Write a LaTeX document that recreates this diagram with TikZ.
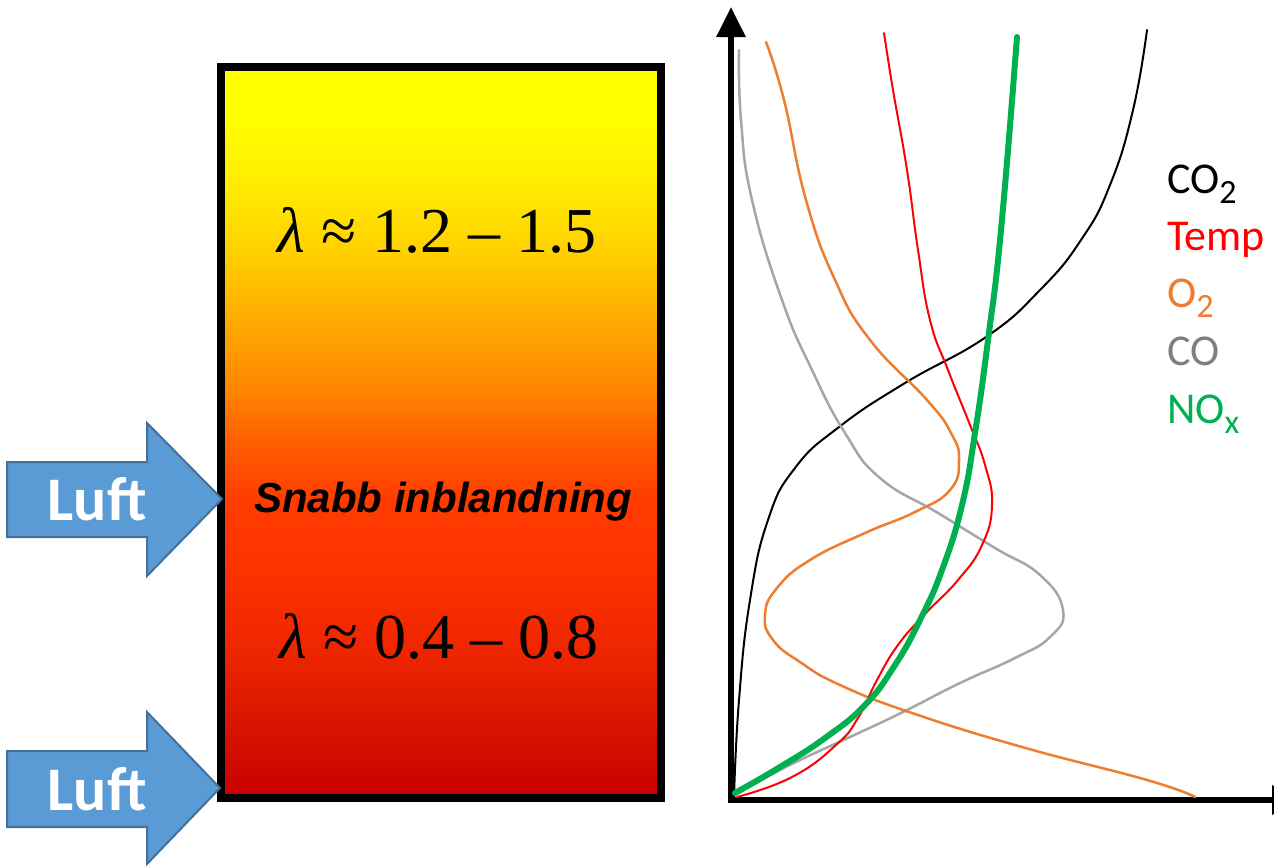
\documentclass[tikz,border=0pt]{standalone}
\usepackage{fontspec}
\setmainfont{Carlito}
\newfontfamily\tnrfont{Liberation Serif}
\newfontfamily\arialfont{Liberation Sans}
\usetikzlibrary{arrows.meta}
\definecolor{fA}{HTML}{C80000}
\definecolor{fB}{HTML}{D41000}
\definecolor{fC}{HTML}{EE2600}
\definecolor{fD}{HTML}{FF3300}
\definecolor{fE}{HTML}{FF3C00}
\definecolor{fF}{HTML}{FF6000}
\definecolor{fG}{HTML}{FF8C00}
\definecolor{fH}{HTML}{FFAA00}
\definecolor{fI}{HTML}{FFCC00}
\definecolor{fJ}{HTML}{FFEA00}
\definecolor{fK}{HTML}{FFFF00}
\definecolor{arrowfill}{HTML}{5B9BD5}
\definecolor{arrowline}{HTML}{41719C}
\definecolor{oO2}{HTML}{ED7D31}
\definecolor{gCOline}{HTML}{A6A6A6}
\definecolor{gCOtext}{HTML}{7F7F7F}
\definecolor{gNOx}{HTML}{00B050}
\definecolor{rTemp}{HTML}{FF0000}
\pgfdeclareverticalshading{flame}{100bp}{color(0bp)=(fA); color(25bp)=(fA); color(29bp)=(fB); color(35.1bp)=(fC); color(41.3bp)=(fD); color(45.4bp)=(fE); color(49.5bp)=(fF); color(53.6bp)=(fG); color(57.7bp)=(fH); color(61.8bp)=(fI); color(66.6bp)=(fJ); color(71.4bp)=(fK); color(75bp)=(fK); color(100bp)=(fK)}
\newcommand{\subtwo}[1]{\raisebox{-10pt}{\fontsize{34}{34}\selectfont #1}}
\tikzset{
  luftarrow/.style={fill=arrowfill, draw=arrowline, line width=2pt, line join=miter},
  lufttext/.style={anchor=base, text=white, font=\fontsize{62}{62}\selectfont\bfseries},
  lambdatext/.style={anchor=base, font=\fontsize{64}{64}\selectfont\tnrfont},
  legend/.style={anchor=base west, inner sep=0pt, font=\fontsize{44}{44}\selectfont},
  axisline/.style={line width=6pt, -{Triangle[length=30pt,width=28pt]}},
  curve/.style={line cap=round, line join=round}
}
\begin{document}
\begin{tikzpicture}[x=1pt,y=-1pt]
\useasboundingbox (0,0) rectangle (1274,865);
% box
\shade[shading=flame] (221,67) rectangle (661,798);
\draw[line width=8pt] (221,67) rectangle (661,798);
% arrows
\draw[luftarrow] (7,462) -- (147,462) -- (147,423) -- (222,499) -- (147,576) -- (147,537) -- (7,537) -- cycle;
\draw[luftarrow] (7,751) -- (147,751) -- (147,712) -- (220,788) -- (147,864) -- (147,827) -- (7,827) -- cycle;
\node[lufttext] (luft1) at (97,520) {Luft};
\node[lufttext] (luft2) at (97,810) {Luft};
% texts in box
\node[lambdatext] (lam1) at (437,252) {{\itshape λ} ≈ 1.2 – 1.5};
\node[lambdatext] (lam2) at (439,658) {{\itshape λ} ≈ 0.4 – 0.8};
\node[anchor=base, font=\fontsize{42}{42}\selectfont\arialfont\bfseries\itshape] (mix) at (443,512) {Snabb inblandning};
% axes
\coordinate (O) at (731,800);
\coordinate (ytip) at (731,7);
\coordinate (xtip) at (1302,800);
\coordinate (O2) at (728,800);
\draw[axisline] (O) -- (ytip);
\draw[axisline] (O2) -- (xtip);
% curves
\draw[curve, black, line width=2pt] plot[smooth, tension=0.8] coordinates {(734,797) (739,700) (750,600) (768,520) (795,468) (839,427) (905,383) (986,337) (1040,290) (1081,240) (1110,185) (1133,110) (1147,30)};
\draw[curve, gCOline, line width=2.5pt] plot[smooth, tension=0.8] coordinates {(739,50) (741,120) (752,200) (782,300) (812,370) (845,433) (880,478) (938,513) (995,548) (1040,575) (1063,610) (1050,637) (1015,658) (960,683) (903,712) (850,737) (800,760) (765,778) (735,795)};
\draw[curve, oO2, line width=2.5pt] plot[smooth, tension=0.8] coordinates {(766,42) (784,100) (806,200) (835,280) (870,340) (927,400) (951,433) (959,460) (950,490) (915,512) (865,533) (810,560) (777,588) (765,615) (773,640) (800,662) (840,685) (912,713) (1022,747) (1147,780) (1195,797)};
\draw[curve, rTemp, line width=2pt] plot[smooth, tension=0.8] coordinates {(737,797) (792,777) (836,745) (858,718) (877,680) (898,645) (925,614) (958,580) (982,545) (992,505) (985,465) (970,425) (948,370) (930,320) (918,250) (907,170) (893,90) (884,33)};
\draw[curve, gNOx, line width=6pt] plot[smooth, tension=0.8] coordinates {(735,793) (780,767) (825,738) (865,705) (895,665) (920,620) (942,570) (962,505) (975,433) (988,340) (1001,230) (1017,37)};
% legend
\node[legend, text=black] (lgco2) at (1167,193) {CO\subtwo{2}};
\node[legend, text=rTemp] (lgtemp) at (1167,250) {Temp};
\node[legend, text=oO2] (lgo2) at (1167,307) {O\subtwo{2}};
\node[legend, text=gCOtext] (lgco) at (1167,365) {CO};
\node[legend, text=gNOx] (lgnox) at (1167,423) {NO\subtwo{x}};
\end{tikzpicture}
\end{document}
